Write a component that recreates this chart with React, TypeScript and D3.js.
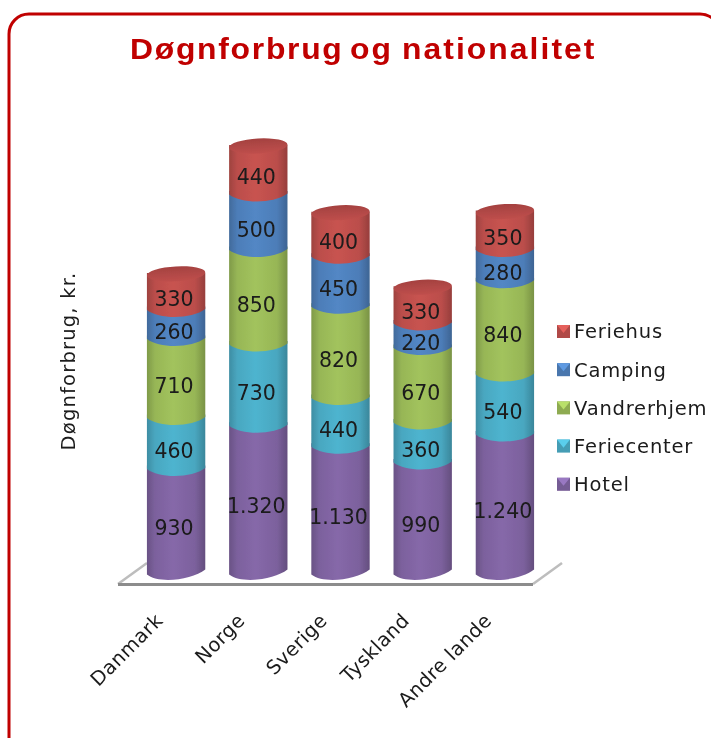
import React from "react";
import * as d3 from "d3";

const categories = ["Danmark", "Norge", "Sverige", "Tyskland", "Andre lande"];
const seriesNames = ["Hotel", "Feriecenter", "Vandrerhjem", "Camping", "Feriehus"];
const hotel = [930, 1320, 1130, 990, 1240];
const feriecenter = [460, 730, 440, 360, 540];
const vandrerhjem = [710, 850, 820, 670, 840];
const camping = [260, 500, 450, 220, 280];
const feriehus = [330, 440, 400, 330, 350];
const seriesValues = [hotel, feriecenter, vandrerhjem, camping, feriehus];
const seriesColors = ["#8064A2", "#4BACC6", "#9BBB59", "#4F81BD", "#C0504D"];

const W = 711, H = 738;
const fmt = (v: number) => (v >= 1000 ? `${Math.floor(v / 1000)}.${String(v % 1000).padStart(3, "0")}` : String(v));
const FONT = "'DejaVu Sans', Verdana, sans-serif";
const TITLE_STRETCH = 1.08;

export default function App() {
  const rows = categories.map((c, i) => {
    const r: Record<string, any> = { c };
    seriesNames.forEach((s, j) => (r[s] = seriesValues[j][i]));
    return r;
  });
  const stacked = d3.stack<any>().keys(seriesNames)(rows);
  const x = d3.scaleBand<string>().domain(categories).range([135, 546]).paddingInner(0.29).paddingOuter(0.145);
  const y = d3.scaleLinear().domain([0, 3840]).range([572, 145]);
  const ry = 7.5;
  const bw = x.bandwidth();

  // The bottom edge bows down between the sides; each segment runs up behind the next one.
  const segPath = (x0: number, x1: number, yTop: number, yBot: number, tilt: number) => {
    const h = ry * 1.33;
    const c1 = x0 + (x1 - x0) * 0.22, c2 = x0 + (x1 - x0) * 0.78;
    return `M${x0},${yTop}L${x0},${yBot + tilt}C${c1},${yBot + tilt + h} ${c2},${yBot - tilt + h} ${x1},${yBot - tilt}L${x1},${yTop}Z`;
  };

  return (
    <svg width={W} height={H} viewBox={`0 0 ${W} ${H}`} style={{ position: "fixed", left: 0, top: 0, background: "#fff" }}>
      <defs>
        {seriesColors.map((col, i) => {
          const d = d3.color(col)!;
          return (
            <linearGradient key={i} id={`g${i}`} x1="0" x2="1" y1="0" y2="0">
              <stop offset="0" stopColor={d.darker(0.55).formatHex()} />
              <stop offset="0.14" stopColor={d.darker(0.08).formatHex()} />
              <stop offset="0.45" stopColor={d.brighter(0.12).formatHex()} />
              <stop offset="0.82" stopColor={d.darker(0.08).formatHex()} />
              <stop offset="1" stopColor={d.darker(0.7).formatHex()} />
            </linearGradient>
          );
        })}
        <linearGradient id="cap" x1="0" x2="0" y1="0" y2="1">
          <stop offset="0" stopColor="#a44140" />
          <stop offset="1" stopColor="#bf4f4c" />
        </linearGradient>
        <filter id="soft" x="-5%" y="-5%" width="110%" height="110%">
          <feGaussianBlur stdDeviation="0.5" />
        </filter>
        <filter id="softText" x="-5%" y="-5%" width="110%" height="110%">
          <feGaussianBlur stdDeviation="0.3" />
        </filter>
      </defs>

      <rect x={9} y={14} width={711} height={800} rx={20} ry={20} fill="#fff" stroke="#C00000" strokeWidth={3} />

      <text y={59.5} transform={`scale(${TITLE_STRETCH},1)`} fontFamily="'Liberation Sans', Arial, sans-serif" fontWeight={700} fontSize={29.5} letterSpacing={1.9} fill="#C00000" filter="url(#softText)">
        <tspan x={130 / TITLE_STRETCH} letterSpacing={1.6}>Døgnforbrug</tspan>
        <tspan x={350 / TITLE_STRETCH}>og</tspan>
        <tspan x={402 / TITLE_STRETCH}>nationalitet</tspan>
      </text>

      <g filter="url(#soft)">
        <path d={`M118,584L147,563`} stroke="#bdbdbd" strokeWidth={2.5} fill="none" />
        <path d={`M533,584L562,563`} stroke="#bdbdbd" strokeWidth={2.5} fill="none" />
      </g>
      <line x1={118} x2={533} y1={584.5} y2={584.5} stroke="#8c8c8c" strokeWidth={3} />

      <g filter="url(#soft)">
        {stacked.map((s, i) =>
          s.map((d, k) => {
            const x0 = x(categories[k])!;
            const overlap = i < stacked.length - 1 ? 3 : 0;
            return <path key={`${i}-${k}`} d={segPath(x0, x0 + bw, y(d[1]) - overlap, y(d[0]), i === 0 ? 2.5 : 0.5)} fill={`url(#g${i})`} />;
          })
        )}
        {stacked[stacked.length - 1].map((d, k) => {
          const cx = x(categories[k])! + bw / 2;
          return <ellipse key={k} cx={cx} cy={y(d[1]) + 1} rx={bw / 2} ry={ry} fill="url(#cap)" transform={`rotate(-3 ${cx} ${y(d[1])})`} />;
        })}
      </g>

      <g filter="url(#softText)">
        {stacked.map((s, i) =>
          s.map((d, k) => (
            <text key={`t${i}-${k}`} x={x(categories[k])! + bw / 2 - 2} y={(y(d[0]) + y(d[1])) / 2 + ry} dy="0.36em" textAnchor="middle" fontFamily={FONT} fontSize={20.5} fill="#1a1a1a">
              {fmt(d[1] - d[0])}
            </text>
          ))
        )}

        {categories.map((c) => {
          const px = x(c)! + bw / 2 - 17;
          return (
            <text key={c} transform={`translate(${px},${617}) rotate(-45)`} textAnchor="end" dy="0.35em" fontFamily={FONT} fontSize={19.5} letterSpacing={0.4} fill="#1a1a1a">
              {c}
            </text>
          );
        })}

        <text transform="translate(68,361) rotate(-90)" textAnchor="middle" dy="0.35em" fontFamily={FONT} fontSize={19.5} letterSpacing={1.2} fill="#1a1a1a">
          Døgnforbrug, kr.
        </text>

        {[...seriesNames].reverse().map((name, i) => {
          const ly = 331.5 + i * 38.2;
          return (
            <text key={name} x={574} y={ly} dy="0.35em" fontFamily={FONT} fontSize={19.5} letterSpacing={0.8} fill="#1a1a1a">
              {name}
            </text>
          );
        })}
      </g>

      {[...seriesNames].reverse().map((name, i) => {
        const idx = seriesNames.indexOf(name);
        const ly = 331.5 + i * 38.2;
        const col = d3.color(seriesColors[idx])!;
        const x0 = 557, s = 13, y0 = ly - 6.5;
        return (
          <g key={name} filter="url(#softText)">
            <rect x={x0} y={y0} width={s} height={s} fill={col.darker(0.25).formatHex()} />
            <path d={`M${x0},${y0}H${x0 + s}L${x0 + s / 2},${y0 + s * 0.62}Z`} fill={col.brighter(0.5).formatHex()} />
          </g>
        );
      })}
    </svg>
  );
}
